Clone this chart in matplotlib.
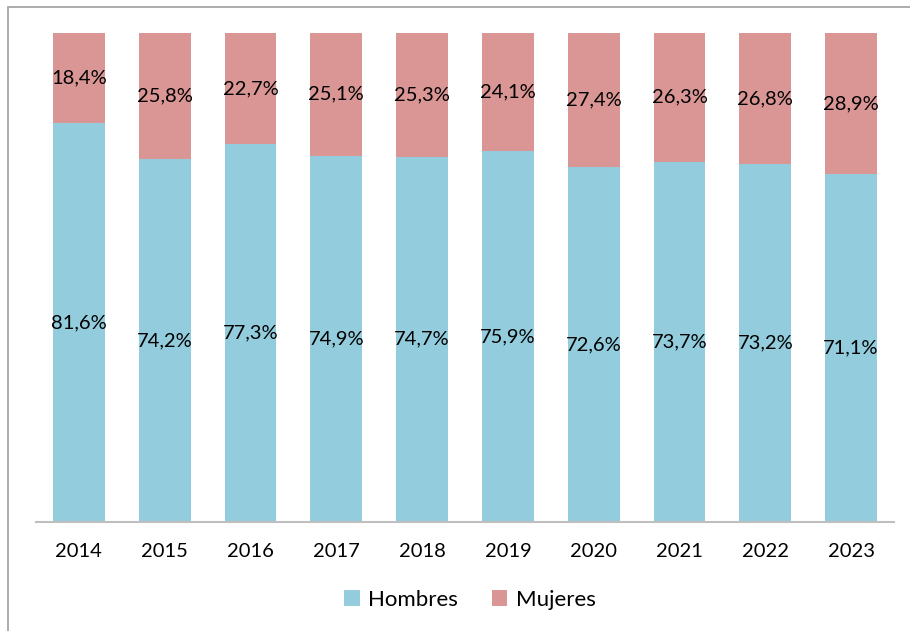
import matplotlib
matplotlib.use("Agg")
import matplotlib.pyplot as plt
from matplotlib.patches import Rectangle
import numpy as np

years = ["2014", "2015", "2016", "2017", "2018", "2019", "2020", "2021", "2022", "2023"]
hombres = [81.6, 74.2, 77.3, 74.9, 74.7, 75.9, 72.6, 73.7, 73.2, 71.1]
mujeres = [18.4, 25.8, 22.7, 25.1, 25.3, 24.1, 27.4, 26.3, 26.8, 28.9]

plt.rcParams['font.family'] = ['Lato', 'DejaVu Sans']

fig = plt.figure(figsize=(9.1, 6.31), dpi=100)
ax = fig.add_axes([36/910, 1-522/631, (894-36)/910, (522-33)/631])

x = np.arange(len(years))
c_h = "#93CDDD"
c_m = "#D99694"
w = 0.606
b1 = ax.bar(x, hombres, w, color=c_h, label="Hombres")
b2 = ax.bar(x, mujeres, w, bottom=hombres, color=c_m, label="Mujeres")

def fmt(v):
    return f"{v:.1f}".replace(".", ",") + "%"

fs = 14.5
for i in range(len(years)):
    ax.text(x[i], hombres[i]/2, fmt(hombres[i]), ha="center", va="center", fontsize=fs, color="black")
    ax.text(x[i], hombres[i] + mujeres[i]/2, fmt(mujeres[i]), ha="center", va="center", fontsize=fs, color="black")

ax.set_xlim(-0.5, len(years)-0.5)
ax.set_ylim(0, 100)
ax.set_xticks(x)
ax.set_xticklabels(years, fontsize=fs)
ax.tick_params(axis="x", length=0, pad=15)
ax.set_yticks([])
for s in ["top", "right", "left"]:
    ax.spines[s].set_visible(False)
ax.spines["bottom"].set_color("#BFBFBF")
ax.spines["bottom"].set_linewidth(1.5)

leg = fig.legend(handles=[b1, b2], labels=["Hombres", "Mujeres"], loc="center",
                 bbox_to_anchor=(470/910, 1-600/631), ncol=2, frameon=False,
                 fontsize=16, handlelength=0.7, handleheight=0.7, columnspacing=1.5,
                 handletextpad=0.4)

# outer frame
fig.patches.append(Rectangle((8/910, -0.05), 1.2, 1-7/631+0.05, transform=fig.transFigure,
                             fill=False, edgecolor="#A6A6A6", linewidth=1.3))

fig.savefig("out.png", dpi=100)
